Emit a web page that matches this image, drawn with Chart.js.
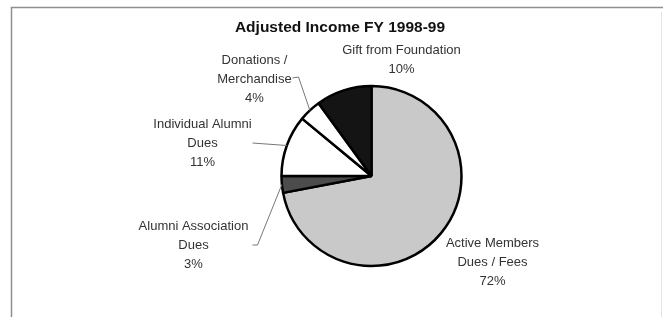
<!DOCTYPE html>
<html>
<head>
<meta charset="utf-8">
<script src="https://cdn.jsdelivr.net/npm/chart.js@4.4.1/dist/chart.umd.min.js"></script>
<style>
  html, body { margin: 0; padding: 0; background: #ffffff; }
  #wrap { width: 663px; height: 317px; position: relative; }
</style>
</head>
<body>
<div id="wrap"><canvas id="c" width="663" height="317"></canvas></div>
<script>
// ---- data ----
const chartTitle = 'Adjusted Income FY 1998-99';
const categories = [
  'Active Members Dues / Fees',
  'Alumni Association Dues',
  'Individual Alumni Dues',
  'Donations / Merchandise',
  'Gift from Foundation'
];
const values = [72, 3, 11, 4, 10];
const labelLines = [
  ['Active Members', 'Dues / Fees'],
  ['Alumni Association', 'Dues'],
  ['Individual Alumni', 'Dues'],
  ['Donations /', 'Merchandise'],
  ['Gift from Foundation']
];

// ---- styles ----
const sliceColors = ['#c9c9c9', '#4c4c4c', '#ffffff', '#ffffff', '#141414'];
// label block centre (first line) relative to pie centre, px
const labelOffsets = [
  [121, 67],
  [-178, 50],
  [-169, -52],
  [-117, -116],
  [30, -126]
];
// leader line start point relative to pie centre (null = no leader)
const leaderStarts = [
  null,
  [[-119, 69], [-114, 69]],
  [[-119, -33]],
  [[-79, -98], [-73, -99]],
  null
];

const labelPlugin = {
  id: 'labelPlugin',
  afterDraw(chart) {
    const ctx = chart.ctx;
    const meta = chart.getDatasetMeta(0);
    ctx.save();
    // frame
    ctx.strokeStyle = '#8f8f8f';
    ctx.lineWidth = 1.5;
    ctx.beginPath();
    ctx.moveTo(11.5, 317);
    ctx.lineTo(11.5, 7.5);
    ctx.lineTo(663, 7.5);
    ctx.stroke();
    ctx.strokeStyle = '#e4e4e4';
    ctx.lineWidth = 1;
    ctx.beginPath();
    ctx.moveTo(661.5, 12);
    ctx.lineTo(661.5, 317);
    ctx.stroke();

    // title
    ctx.fillStyle = '#111111';
    ctx.font = 'bold 15.5px "Liberation Sans", Arial, sans-serif';
    ctx.textAlign = 'center';
    ctx.textBaseline = 'middle';
    ctx.fillText(chartTitle, 340, 28);

    ctx.font = '13px "Liberation Sans", Arial, sans-serif';
    meta.data.forEach((arc, i) => {
      const cx = arc.x, cy = arc.y, r = arc.outerRadius;
      const mid = (arc.startAngle + arc.endAngle) / 2;
      const ex = cx + Math.cos(mid) * r;
      const ey = cy + Math.sin(mid) * r;
      const lines = labelLines[i].concat([values[i] + '%']);
      const lx = cx + labelOffsets[i][0];
      const ly = cy + labelOffsets[i][1];
      ctx.fillStyle = '#333333';
      lines.forEach((t, k) => ctx.fillText(t, lx, ly + k * 19));
      const ls = leaderStarts[i];
      if (ls) {
        ctx.strokeStyle = '#777777';
        ctx.lineWidth = 1;
        ctx.beginPath();
        ctx.moveTo(cx + ls[0][0], cy + ls[0][1]);
        for (let k = 1; k < ls.length; k++) ctx.lineTo(cx + ls[k][0], cy + ls[k][1]);
        ctx.lineTo(ex, ey);
        ctx.stroke();
      }
    });
    ctx.restore();
  }
};

new Chart(document.getElementById('c'), {
  type: 'pie',
  data: {
    labels: categories,
    datasets: [{
      data: values,
      backgroundColor: sliceColors,
      borderColor: '#000000',
      borderWidth: 2.5
    }]
  },
  options: {
    responsive: false,
    animation: false,
    radius: 90,
    layout: { padding: { left: 281, right: 201, top: 86, bottom: 51 } },
    plugins: {
      legend: { display: false },
      title: { display: false },
      tooltip: { enabled: false }
    }
  },
  plugins: [labelPlugin]
});
</script>
</body>
</html>
